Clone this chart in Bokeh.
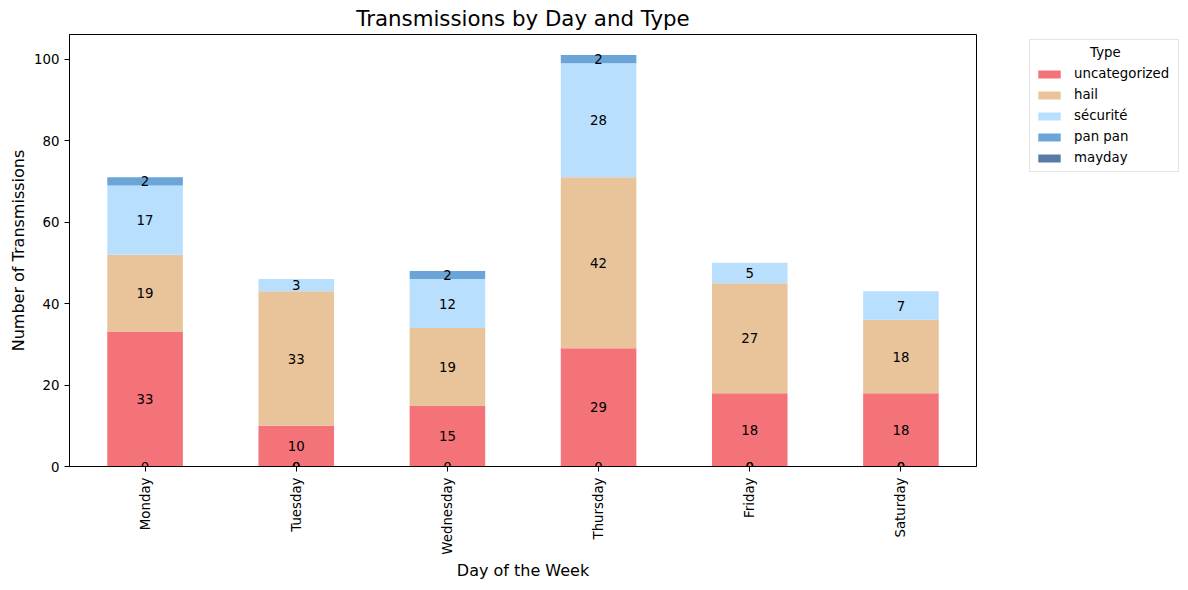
import math
from bokeh.plotting import figure
from bokeh.models import (ColumnDataSource, FactorRange, Range1d, FixedTicker,
                          Legend, LegendItem)
from bokeh.core.properties import value
from bokeh.embed import file_html
from bokeh.resources import INLINE

days = ["Monday", "Tuesday", "Wednesday", "Thursday", "Friday", "Saturday"]
types = ["uncategorized", "hail", "sécurité", "pan pan", "mayday"]
uncategorized = [33, 10, 15, 29, 18, 18]
hail = [19, 33, 19, 42, 27, 18]
securite = [17, 3, 12, 28, 5, 7]
pan_pan = [2, 0, 2, 2, 0, 0]
mayday = [0, 0, 0, 0, 0, 0]
colors = ["#F47378", "#E9C49B", "#B8DFFD", "#6BA4D7", "#5A7AA6"]

series = [uncategorized, hail, securite, pan_pan, mayday]
keys = ["s0", "s1", "s2", "s3", "s4"]
data = {"day": days}
for k, s in zip(keys, series):
    data[k] = s
src = ColumnDataSource(data)

FONT = "DejaVu Sans"
SMALL = "13.33px"

p = figure(x_range=FactorRange(*days, range_padding=0), y_range=Range1d(0, 106.05),
           frame_width=907, frame_height=432,
           min_border_left=62, min_border_right=200, min_border_top=26, min_border_bottom=108,
           output_backend="svg", toolbar_location=None,
           title="Transmissions by Day and Type")
p.margin = (0, 0, 0, 6)

renderers = p.vbar_stack(keys, x="day", width=0.5, color=colors, line_color=None, source=src)

# bar labels (pandas-style stacking: zero values start at 0)
lx, ly, lt = [], [], []
for i, d in enumerate(days):
    cum = 0
    for s in series:
        v = s[i]
        if v > 0:
            lx.append(d); ly.append(cum + v / 2); lt.append(str(v))
            cum += v
        else:
            lx.append(d); ly.append(0); lt.append(str(v))
p.text(x=lx, y=ly, text=lt, text_align="center", text_baseline="middle",
       text_font_size=SMALL, text_color="black", text_font=value(FONT))

p.title.text_font = FONT
p.title.text_font_size = "21.33px"
p.title.text_font_style = "normal"
p.title.text_color = "black"
p.title.align = "center"
p.title.standoff = 7

p.xgrid.visible = False
p.ygrid.visible = False
p.outline_line_color = "black"
p.outline_line_alpha = 1

for ax in (p.xaxis[0], p.yaxis[0]):
    ax.axis_line_color = "black"
    ax.major_tick_line_color = "black"
    ax.minor_tick_line_color = None
    ax.major_tick_out = 5
    ax.major_tick_in = 0
    ax.major_label_text_font = FONT
    ax.major_label_text_font_size = SMALL
    ax.major_label_text_color = "black"
    ax.axis_label_text_font = FONT
    ax.axis_label_text_font_size = "16px"
    ax.axis_label_text_font_style = "normal"
    ax.axis_label_text_color = "black"

p.yaxis.axis_label = "Number of Transmissions"
p.yaxis.ticker = FixedTicker(ticks=[0, 20, 40, 60, 80, 100])
p.yaxis.major_label_standoff = 5
p.yaxis.axis_label_standoff = 3
p.xaxis.axis_label = "Day of the Week"
p.xaxis.major_label_orientation = math.pi / 2
p.xaxis.major_label_standoff = 6
p.xaxis.axis_label_standoff = 3

items = [LegendItem(label=t, renderers=[r]) for t, r in zip(types, renderers)]
legend = Legend(items=items, location=(53, 294), title="\u00a0" * 13 + "Type",
                label_text_font=FONT, label_text_font_size=SMALL, label_text_color="black",
                title_text_font=FONT, title_text_font_size=SMALL, title_text_font_style="normal",
                title_text_color="black", title_standoff=5,
                glyph_width=28, glyph_height=10, label_height=17, label_standoff=11,
                label_width=99, spacing=4, padding=5, margin=0, border_line_color="#cccccc",
                background_fill_alpha=1)
p.add_layout(legend, "right")

open("out.html", "w").write(file_html(p, INLINE))
